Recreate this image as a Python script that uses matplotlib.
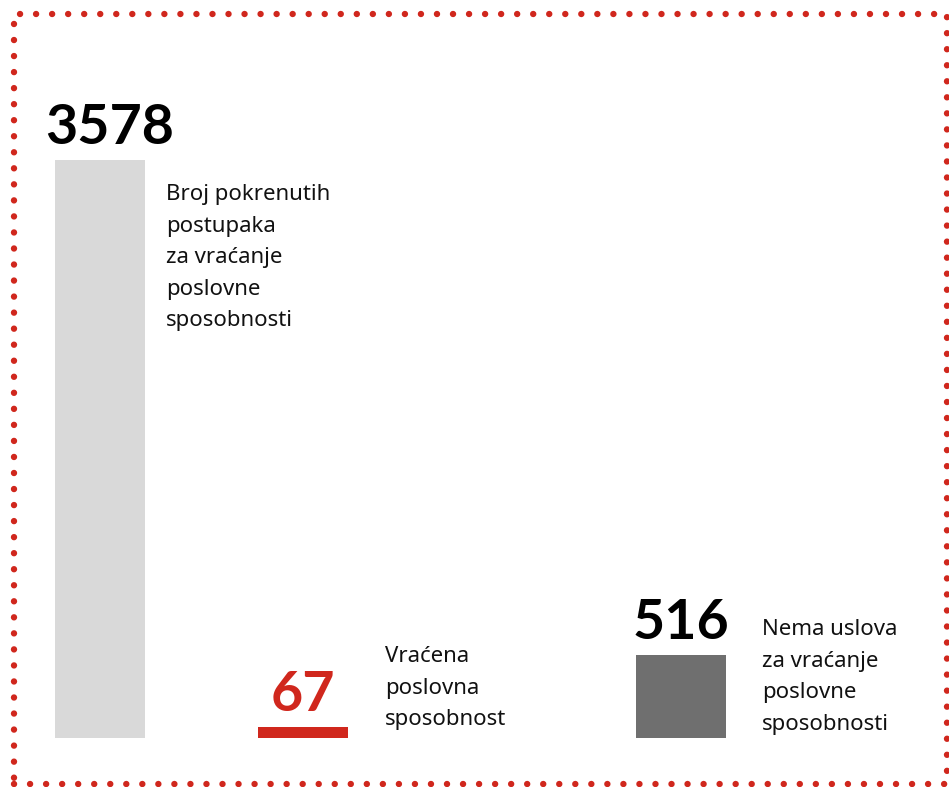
import matplotlib
matplotlib.use("Agg")
import matplotlib.pyplot as plt
from matplotlib.patches import Rectangle
from matplotlib.transforms import blended_transform_factory

plt.rcParams["font.family"] = ["Noto Sans", "DejaVu Sans"]

values = [3578, 67, 516]
labels = [
    "Broj pokrenutih\npostupaka\nza vraćanje\nposlovne\nsposobnosti",
    "Vraćena\nposlovna\nsposobnost",
    "Nema uslova\nza vraćanje\nposlovne\nsposobnosti",
]
bar_colors = ["#d9d9d9", "#d0271d", "#6f6f6f"]
num_colors = ["#000000", "#d0271d", "#000000"]

W, H = 949, 787
# layout in pixels
bar_x = [100, 303, 681]
bar_w = 90
num_dx = [7, 0, 0]  # the big number sits a bit right of its bar
label_x = [166, 385, 762]
label_top = [184, 646, 619]
base_px = 738
top_px = 160

fig = plt.figure(figsize=(W / 100, H / 100), dpi=100)
fig.patch.set_facecolor("white")
ax = fig.add_axes([0, (H - base_px) / H, 1, base_px / H])
ax.set_xlim(0, W)
ax.set_ylim(0, values[0] * base_px / (base_px - top_px))
ax.axis("off")

ax.bar(bar_x, values, width=bar_w, color=bar_colors, linewidth=0)

for x, v, c, dx in zip(bar_x, values, num_colors, num_dx):
    ax.annotate(str(v), (x, v), xytext=(dx, 5), textcoords="offset points",
                ha="center", va="bottom", fontsize=40, fontweight="bold",
                color=c, family=["Lato", "DejaVu Sans"])

tr = blended_transform_factory(ax.transData, fig.transFigure)
for x, t, lab in zip(label_x, label_top, labels):
    ax.text(x, 1 - t / H, lab, transform=tr, ha="left", va="top",
            fontsize=16, color="#111111", linespacing=1.66)

# dotted frame, display pixels (origin bottom-left)
border = Rectangle((14, H - 784), 947 - 14, 784 - 14,
                   transform=None, fill=False,
                   edgecolor="#d0271d", linewidth=4.6,
                   linestyle=(0, (0.01, 2.5)), capstyle="round")
fig.add_artist(border)

fig.savefig("out.png", dpi=100, facecolor="white")
